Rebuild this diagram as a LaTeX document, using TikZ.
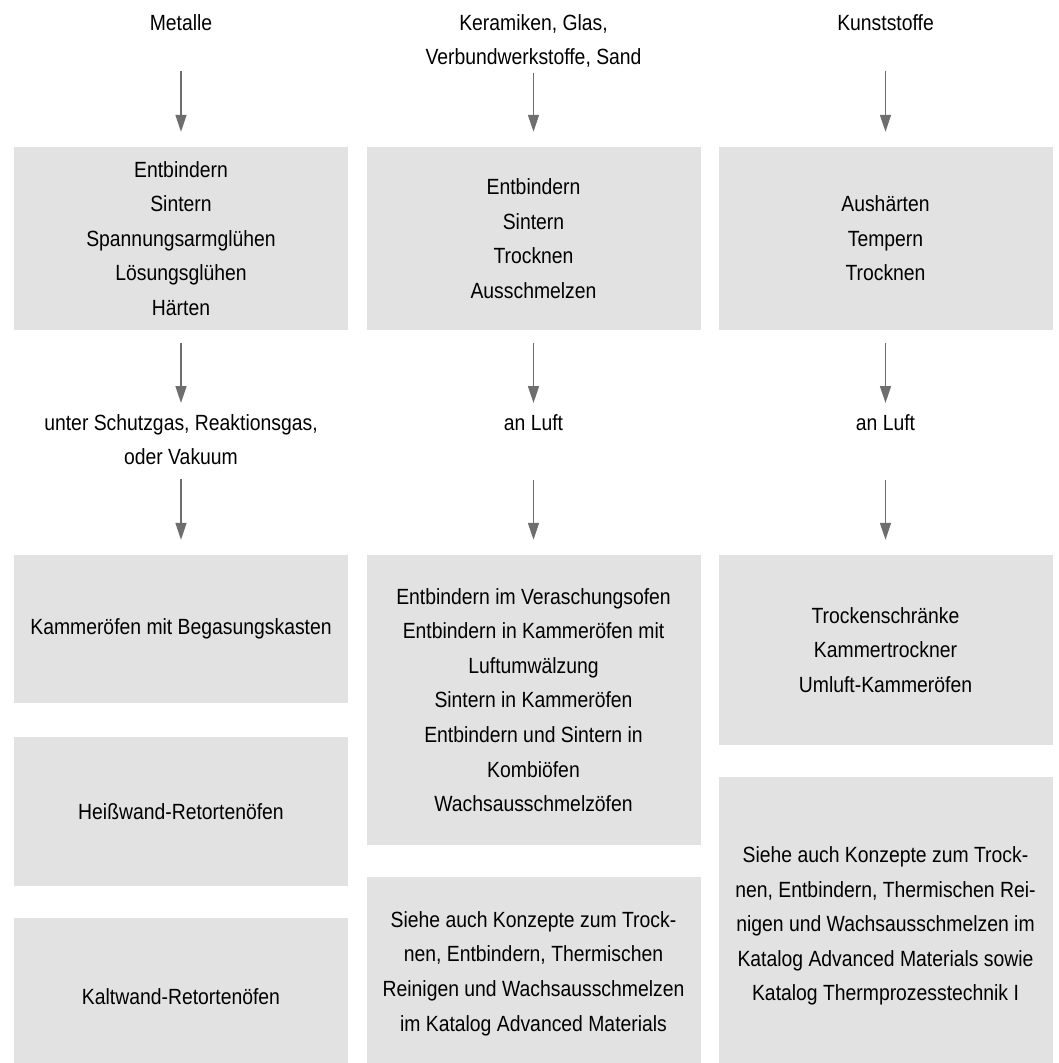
\documentclass[tikz,border=0pt]{standalone}
\usepackage{fontspec}
\setmainfont[FakeStretch=0.88]{Liberation Sans}
\usepackage{tikz}
\usetikzlibrary{arrows.meta}
\definecolor{kastengrau}{HTML}{E2E2E2}
\definecolor{pfeilgrau}{HTML}{6E6E6E}

\begin{document}
\begin{tikzpicture}[x=1pt, y=-1pt,
	titel/.style={anchor=north, inner sep=0pt, align=center},
	kasten/.style={fill=kastengrau, draw=none, shape=rectangle, align=center, inner sep=0pt, minimum width=334pt},
	pfeil/.style={draw=pfeilgrau, line width=1.6pt, -{Triangle[width=11pt,length=17pt]}},
	every node/.style={font=\fontsize{22}{34.6}\selectfont}]
	\useasboundingbox (0, 0) rectangle (1058, 1063);
	% Werkstoffe
	\node [titel] (0) at (181, 14) {Metalle};
	\node [titel] (1) at (533.5, 14) {Keramiken, Glas,\\Verbundwerkstoffe, Sand};
	\node [titel] (2) at (885.5, 14) {Kunststoffe};
	% Prozesse
	\node [kasten, minimum height=183pt] (3) at (181, 238.5) {Entbindern\\Sintern\\Spannungsarmglühen\\Lösungsglühen\\Härten};
	\node [kasten, minimum height=183pt] (4) at (533.5, 238.5) {Entbindern\\Sintern\\Trocknen\\Ausschmelzen};
	\node [kasten, minimum height=183pt] (5) at (885.5, 238.5) {Aushärten\\Tempern\\Trocknen};
	% Atmosphäre
	\node [titel] (6) at (181, 414) {unter Schutzgas, Reaktionsgas,\\oder Vakuum};
	\node [titel] (7) at (533.5, 414) {an Luft};
	\node [titel] (8) at (885.5, 414) {an Luft};
	% Öfen
	\node [kasten, minimum height=148pt] (9) at (181, 629) {Kammeröfen mit Begasungskasten};
	\node [kasten, minimum height=149pt] (10) at (181, 811.5) {Heißwand-Retortenöfen};
	\node [kasten, minimum height=158pt] (11) at (181, 997) {Kaltwand-Retortenöfen};
	\node [kasten, minimum height=290pt] (12) at (533.5, 700) {Entbindern im Veraschungsofen\\Entbindern in Kammeröfen mit\\Luftumwälzung\\Sintern in Kammeröfen\\Entbindern und Sintern in\\Kombiöfen\\Wachsausschmelzöfen};
	\node [kasten, minimum height=193pt] (13) at (533.5, 973.5) {Siehe auch Konzepte zum Trock-\\nen, Entbindern, Thermischen\\Reinigen und Wachsausschmelzen\\im Katalog Advanced Materials};
	\node [kasten, minimum height=190pt] (14) at (885.5, 650) {Trockenschränke\\Kammertrockner\\Umluft-Kammeröfen};
	\node [kasten, minimum height=298pt] (15) at (885.5, 926) {Siehe auch Konzepte zum Trock-\\nen, Entbindern, Thermischen Rei-\\nigen und Wachsausschmelzen im\\Katalog Advanced Materials sowie\\Katalog Thermprozesstechnik I};
	% Pfeile
	\draw [pfeil, shorten <=40pt, shorten >=15pt] (0) to (3);
	\draw [pfeil, shorten <=5pt, shorten >=15pt] (1) to (4);
	\draw [pfeil, shorten <=40pt, shorten >=15pt] (2) to (5);
	\draw [pfeil, shorten <=13pt, shorten >=11pt] (3) to (6);
	\draw [pfeil, shorten <=13pt, shorten >=11pt] (4) to (7);
	\draw [pfeil, shorten <=13pt, shorten >=11pt] (5) to (8);
	\draw [pfeil, shorten <=14pt, shorten >=15pt] (6) to (9);
	\draw [pfeil, shorten <=49pt, shorten >=15pt] (7) to (12);
	\draw [pfeil, shorten <=49pt, shorten >=15pt] (8) to (14);
\end{tikzpicture}
\end{document}
